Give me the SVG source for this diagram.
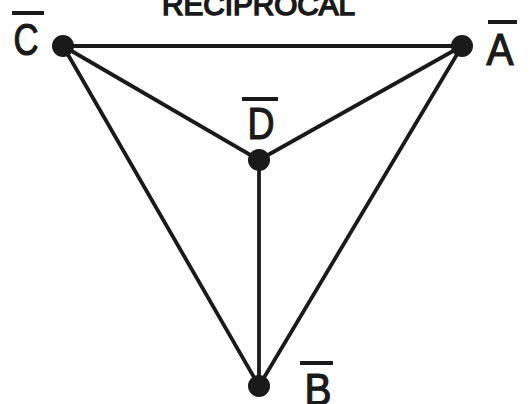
<svg xmlns="http://www.w3.org/2000/svg" width="530" height="404" viewBox="0 0 530 404">
<style>
.edge{stroke:#1a1a1a;stroke-width:3.8;stroke-linecap:round;fill:none}
.dot{fill:#1a1a1a}
.lbl{font-family:"Liberation Sans","DejaVu Sans",sans-serif;font-size:44px;fill:#1a1a1a;stroke:#1a1a1a;stroke-width:1.2;text-anchor:middle}
.bar{stroke:#1a1a1a;stroke-width:4}
.title{font-family:"Liberation Sans","DejaVu Sans",sans-serif;font-size:30px;fill:#1a1a1a;stroke:#1a1a1a;stroke-width:1.6}
</style>
<rect width="530" height="404" fill="#fff"/>
<text class="title" x="162" y="15" textLength="193" lengthAdjust="spacingAndGlyphs">RECIPROCAL</text>
<g id="connectors">
<line class="edge" x1="63" y1="46" x2="462" y2="46"/>
<line class="edge" x1="63" y1="46" x2="259" y2="160"/>
<line class="edge" x1="462" y1="46" x2="259" y2="160"/>
<line class="edge" x1="259" y1="160" x2="259" y2="386"/>
<line class="edge" x1="63" y1="46" x2="259" y2="386"/>
<line class="edge" x1="462" y1="46" x2="259" y2="386"/>
</g>
<g id="node-C">
<circle class="dot" cx="63" cy="46" r="11"/>
<line class="bar" x1="12" y1="13" x2="44" y2="13"/>
<text class="lbl" x="26" y="55" textLength="25" lengthAdjust="spacingAndGlyphs">C</text>
</g>
<g id="node-A">
<circle class="dot" cx="462" cy="46" r="11"/>
<line class="bar" x1="488" y1="22" x2="517" y2="22"/>
<text class="lbl" x="500" y="65" textLength="27" lengthAdjust="spacingAndGlyphs">A</text>
</g>
<g id="node-D">
<circle class="dot" cx="259" cy="160" r="11"/>
<line class="bar" x1="242" y1="99" x2="278" y2="99"/>
<text class="lbl" x="261" y="139" textLength="27" lengthAdjust="spacingAndGlyphs">D</text>
</g>
<g id="node-B">
<circle class="dot" cx="259" cy="386" r="11"/>
<line class="bar" x1="300" y1="363" x2="333" y2="363"/>
<text class="lbl" x="318" y="405" textLength="27" lengthAdjust="spacingAndGlyphs">B</text>
</g>
</svg>
